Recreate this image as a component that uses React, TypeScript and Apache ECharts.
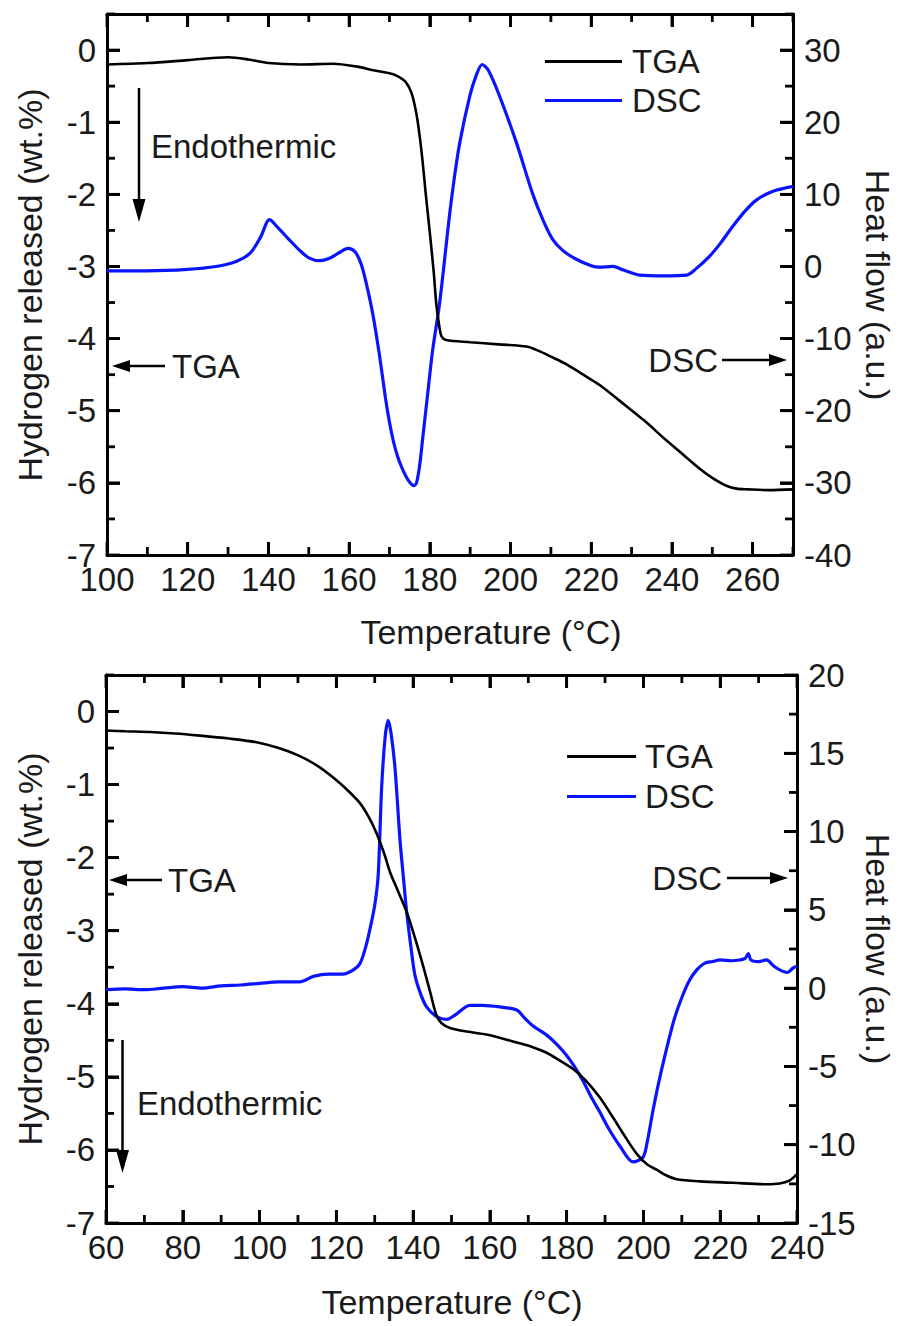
import React, { useEffect, useRef } from "react";
import * as echarts from "echarts";

// ---------- Data ----------
// Top panel
const topTgaTemp = [100,110,120,130,135,140,148,156,162,166,170,172,174,175.5,176.7,177.5,178.2,179,180,181,181.6,182.4,182.9,184,190,197,204,207,210,214,218,222,227,233,238.6,243,246.8,250,253.5,256,259,264,270];
const topTgaVal = [-0.2,-0.18,-0.14,-0.1,-0.13,-0.18,-0.2,-0.19,-0.23,-0.28,-0.32,-0.36,-0.44,-0.6,-0.89,-1.2,-1.54,-2.0,-2.53,-3.1,-3.52,-3.85,-3.97,-4.02,-4.05,-4.08,-4.11,-4.17,-4.25,-4.36,-4.5,-4.64,-4.86,-5.13,-5.41,-5.62,-5.8,-5.93,-6.04,-6.08,-6.09,-6.1,-6.09];
const topDscTemp = [100,110,120,127,132,135.4,138,140.3,142,145,147.8,150,152.7,155,157.5,159.7,161.5,163,164.4,166,167.6,169,170,171,172,173,174,175,176,176.7,177.5,178.2,179.5,180.7,182.4,184.9,186,187.4,189.9,191.5,193,194.5,197.3,201.5,205.4,208,210.4,213,216.3,220,222,225.3,228,232,238,243.6,246,249.3,252,255,258,260.9,264.9,270];
const topDscVal = [-0.6,-0.6,-0.4,0,0.7,1.8,4,6.5,5.6,3.8,2.2,1.2,0.8,1.1,1.9,2.5,2.0,0.3,-2.7,-7,-12.6,-18.2,-21.6,-24.3,-26.3,-27.8,-29.0,-29.9,-30.4,-30,-27.5,-24,-17.5,-11.6,-5.2,7.2,12,17.1,23.6,26.5,28,27.2,23.6,17.1,10.2,6.5,3.8,2.2,1.0,0.1,-0.1,0,-0.5,-1.2,-1.3,-1.2,-0.3,1.4,3.2,5.5,7.6,9.2,10.4,11.1];

// Bottom panel
const botTgaTemp = [60,65,71.5,78,84.5,92,99.2,105,110.5,115,119.1,123,126.1,128.5,130.5,132.5,134,136,138.3,140.5,142.6,144.5,146.1,147.5,149.6,154,159.1,163,167,171,174.8,178,181.6,185,188.6,192,195,198.2,201,203.4,206,208.6,214.7,223.3,232,235.5,238,240];
const botTgaVal = [-0.26,-0.27,-0.28,-0.3,-0.33,-0.37,-0.42,-0.5,-0.61,-0.74,-0.9,-1.08,-1.25,-1.45,-1.67,-1.95,-2.2,-2.45,-2.74,-3.1,-3.48,-3.85,-4.16,-4.27,-4.33,-4.38,-4.42,-4.47,-4.53,-4.59,-4.67,-4.77,-4.89,-5.05,-5.28,-5.55,-5.8,-6.05,-6.2,-6.27,-6.35,-6.4,-6.43,-6.45,-6.47,-6.46,-6.42,-6.33];
const botDscTemp = [60,65,70,75,80,85,90,95,100,105,110.5,114,118,121.7,124,126.1,127.5,128.7,130,130.9,131.8,132.7,133.5,134.3,135.3,136.6,137.5,138.3,139.5,140.5,142,143.5,146,148.7,151,154.8,158,162.6,167,169,171.2,174.8,177.5,180,182,184.2,186.5,188.6,191,193.9,197.3,199.9,201,202.5,204,206,208,210,212,214,216,218,220,223,225,226.5,227.3,228,230,232,234,236,237.5,239,240];
const botDscVal = [-0.1,-0.05,-0.1,0,0.1,0,0.15,0.2,0.3,0.4,0.4,0.75,0.9,0.9,1.1,1.55,2.5,3.7,5.3,7.2,12.8,16,17.1,16.2,14,9.4,7,4.9,2.5,0.8,-0.4,-1.2,-1.8,-2.0,-1.7,-1.1,-1.1,-1.2,-1.4,-1.9,-2.4,-3.0,-3.6,-4.3,-5.0,-5.9,-7.0,-7.9,-9.0,-10.1,-11.1,-10.8,-9.8,-7.8,-6,-3.9,-2.0,-0.6,0.5,1.2,1.6,1.7,1.8,1.75,1.8,1.9,2.2,1.8,1.7,1.8,1.4,1.1,1.0,1.3,1.4];

// Axis definitions
const topX = { min: 100, max: 270, major: 20, minor: 10 };
const botX = { min: 60, max: 240, major: 20, minor: 10 };
const leftY = { min: -7, max: 0.5, major: 1, minor: 0.5 };
const topRightY = { min: -40, max: 35, major: 10, minor: 5 };
const botRightY = { min: -15, max: 20, major: 5, minor: 2.5 };

const seriesNames = ["TGA", "DSC"];
const xTitle = "Temperature (°C)";
const leftTitle = "Hydrogen released (wt.%)";
const rightTitle = "Heat flow (a.u.)";

const FONT = "'Liberation Sans', Arial, Helvetica, sans-serif";
const FS = 33;
const FST = 34;
const TXT = "#1a1a1a";

const TOP_GRID = { left: 107, top: 14, width: 686, height: 541 };
const BOT_GRID = { left: 106, top: 675, width: 691, height: 548 };

const zip = (a: number[], b: number[]) => a.map((v, i) => [v, b[i]]);
const MAJOR_LEN = 13;
const MINOR_LEN = 8;
const TICK_W = 2.8;

// tick positions of an axis (from its own min and interval)
function tickValues(r: any): number[] {
  const out: number[] = [];
  const n = Math.floor((r.max - r.min) / r.minor + 1e-9);
  for (let i = 0; i <= n; i++) out.push(+(r.min + i * r.minor).toFixed(6));
  return out;
}
const isMajor = (v: number, r: any) => Math.abs((v - r.min) / r.major - Math.round((v - r.min) / r.major)) < 1e-6;

function valueAxis(kind: "x" | "y", gridIndex: number, position: string, r: any, labels: boolean, hideMax: boolean) {
  return {
    type: "value",
    gridIndex,
    position,
    min: r.min,
    max: r.max,
    interval: r.major,
    splitLine: { show: false },
    axisLine: { show: true, onZero: false, lineStyle: { color: "#000", width: 3 } },
    axisTick: { show: true, inside: true, length: MAJOR_LEN, lineStyle: { color: "#000", width: TICK_W } },
    axisLabel: labels
      ? { show: true, fontSize: FS, fontFamily: FONT, color: TXT, margin: kind === "x" ? 8 : 11, showMaxLabel: !hideMax }
      : { show: false },
  };
}

// one tick drawn as a thin filled rectangle (x, y = frame point; dx/dy = inward direction)
function tickRect(x: number, y: number, dx: number, dy: number, len: number) {
  const w = TICK_W;
  const shape = dx !== 0
    ? { x: dx > 0 ? x : x - len, y: y - w / 2, width: len, height: w }
    : { x: x - w / 2, y: dy > 0 ? y : y - len, width: w, height: len };
  return { type: "rect", z: 100, zlevel: 1, silent: true, shape, style: { fill: "#000" } };
}

// inward frame ticks: the same linear value->pixel mapping as the value axes (fixed min/max)
function frameTicks(g: any, xr: any, ylr: any, yrr: any) {
  const px = (v: number) => g.left + ((v - xr.min) / (xr.max - xr.min)) * g.width;
  const py = (v: number, r: any) => g.top + g.height - ((v - r.min) / (r.max - r.min)) * g.height;
  const bottom = g.top + g.height;
  const top = g.top;
  const left = g.left;
  const right = g.left + g.width;
  const out: any[] = [];
  for (const v of tickValues(xr)) {
    const len = isMajor(v, xr) ? MAJOR_LEN : MINOR_LEN;
    const x = px(v);
    out.push(tickRect(x, bottom, 0, -1, len));
    out.push(tickRect(x, top, 0, 1, len));
  }
  for (const v of tickValues(ylr)) {
    const len = isMajor(v, ylr) ? MAJOR_LEN : MINOR_LEN;
    out.push(tickRect(left, py(v, ylr), 1, 0, len));
  }
  for (const v of tickValues(yrr)) {
    const len = isMajor(v, yrr) ? MAJOR_LEN : MINOR_LEN;
    out.push(tickRect(right, py(v, yrr), -1, 0, len));
  }
  return out;
}

function arrowH(x1: number, x2: number, y: number) {
  const dir = x2 > x1 ? 1 : -1;
  const headLen = 18;
  const base = x2 - dir * headLen;
  return [
    { type: "line", shape: { x1, y1: y, x2: base, y2: y }, style: { stroke: "#000", lineWidth: 2.5 } },
    { type: "polygon", shape: { points: [[x2, y], [base, y - 6], [base, y + 6]] }, style: { fill: "#000" } },
  ];
}

function arrowV(x: number, y1: number, y2: number) {
  const headLen = 23;
  const base = y2 - headLen;
  return [
    { type: "line", shape: { x1: x, y1, x2: x, y2: base }, style: { stroke: "#000", lineWidth: 2.5 } },
    { type: "polygon", shape: { points: [[x, y2], [x - 6.5, base], [x + 6.5, base]] }, style: { fill: "#000" } },
  ];
}

function txt(text: string, x: number, y: number, align = "left", rotation = 0, fs = FS) {
  return {
    type: "text",
    x,
    y,
    rotation,
    style: { text, fontSize: fs, fontFamily: FONT, fill: TXT, align, verticalAlign: "middle" },
  };
}

export default function App() {
  const ref = useRef<HTMLDivElement>(null);
  useEffect(() => {
    if (!ref.current) return;
    const chart = echarts.init(ref.current, undefined, { renderer: "svg" });

    const xAxes = [
      valueAxis("x", 0, "bottom", topX, true, true),
      valueAxis("x", 0, "top", topX, false, false),
      valueAxis("x", 1, "bottom", botX, true, false),
      valueAxis("x", 1, "top", botX, false, false),
    ];
    const yAxes = [
      valueAxis("y", 0, "left", leftY, true, true),
      valueAxis("y", 0, "right", topRightY, true, true),
      valueAxis("y", 1, "left", leftY, true, true),
      valueAxis("y", 1, "right", botRightY, true, false),
    ];

    const blackLine = { color: "#000", width: 2.6 };
    const blueLine = { color: "#0a14ff", width: 3.2 };

    const legendCommon = {
      orient: "vertical",
      icon: "rect",
      itemHeight: 3,
      selectedMode: false,
      data: seriesNames,
    };

    const graphics: any[] = [
      txt(leftTitle, 30, 285, "center", Math.PI / 2, FST),
      txt(rightTitle, 878, 285, "center", -Math.PI / 2, FST),
      txt(xTitle, 491, 632, "center", 0, FST),
      txt(leftTitle, 30, 949, "center", Math.PI / 2, FST),
      txt(rightTitle, 878, 949, "center", -Math.PI / 2, FST),
      txt(xTitle, 452, 1302, "center", 0, FST),
      ...arrowV(139, 88, 222),
      txt("Endothermic", 151, 146),
      ...arrowH(165, 112, 366),
      txt("TGA", 172, 366),
      txt("DSC", 718, 360, "right"),
      ...arrowH(722, 787, 360),
      ...arrowV(122.5, 1040, 1173),
      txt("Endothermic", 137, 1103),
      ...arrowH(162, 109, 880),
      txt("TGA", 168, 880),
      txt("DSC", 722, 878, "right"),
      ...arrowH(727, 788, 878),
      ...frameTicks(TOP_GRID, topX, leftY, topRightY),
      ...frameTicks(BOT_GRID, botX, leftY, botRightY),
    ];

    const option: any = {
      animation: false,
      backgroundColor: "#fff",
      grid: [
        { ...TOP_GRID, containLabel: false },
        { ...BOT_GRID, containLabel: false },
      ],
      xAxis: xAxes,
      yAxis: yAxes,
      legend: [
        {
          ...legendCommon,
          left: 540,
          top: 40,
          itemWidth: 77,
          itemGap: 6,
          textStyle: { fontSize: FS, fontFamily: FONT, color: TXT, padding: [0, 0, 0, 5] },
        },
        {
          ...legendCommon,
          left: 562,
          top: 735,
          itemWidth: 69,
          itemGap: 7,
          textStyle: { fontSize: FS, fontFamily: FONT, color: TXT, padding: [0, 0, 0, 4] },
        },
      ],
      series: [
        { name: "TGA", type: "line", xAxisIndex: 0, yAxisIndex: 0, data: zip(topTgaTemp, topTgaVal), showSymbol: false, symbol: "none", smooth: 0.3, lineStyle: blackLine, itemStyle: { color: "#000" }, z: 3 },
        { name: "DSC", type: "line", xAxisIndex: 0, yAxisIndex: 1, data: zip(topDscTemp, topDscVal), showSymbol: false, symbol: "none", smooth: 0.3, lineStyle: blueLine, itemStyle: { color: "#0a14ff" }, z: 2 },
        { name: "TGA", type: "line", xAxisIndex: 2, yAxisIndex: 2, data: zip(botTgaTemp, botTgaVal), showSymbol: false, symbol: "none", smooth: 0.3, lineStyle: blackLine, itemStyle: { color: "#000" }, z: 3 },
        { name: "DSC", type: "line", xAxisIndex: 2, yAxisIndex: 3, data: zip(botDscTemp, botDscVal), showSymbol: false, symbol: "none", smooth: 0.3, lineStyle: blueLine, itemStyle: { color: "#0a14ff" }, z: 2 },
      ],
      graphic: graphics,
    };
    chart.setOption(option);
    return () => chart.dispose();
  }, []);
  return <div ref={ref} style={{ position: "fixed", left: 0, top: 0, width: 903, height: 1326, background: "#fff" }} />;
}
